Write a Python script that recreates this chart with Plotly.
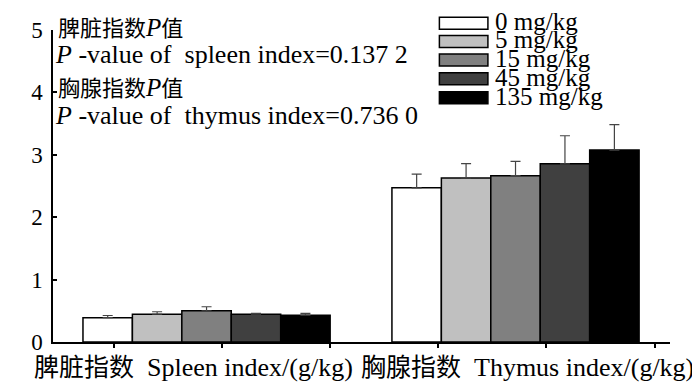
import plotly.graph_objects as go

# ---- data ----
cat_cn = ["脾脏指数", "胸腺指数"]
cat_en = ["Spleen index/(g/kg)", "Thymus index/(g/kg)"]
doses = ["0 mg/kg", "5 mg/kg", "15 mg/kg", "45 mg/kg", "135 mg/kg"]
spleen_mean = [0.39, 0.445, 0.50, 0.445, 0.43]
spleen_sd = [0.035, 0.04, 0.065, 0.015, 0.03]
thymus_mean = [2.47, 2.63, 2.665, 2.855, 3.075]
thymus_sd = [0.22, 0.23, 0.23, 0.45, 0.41]
p_cn = ["脾脏指数", "胸腺指数"]
p_en = ["spleen index", "thymus index"]
p_values = ["0.137 2", "0.736 0"]
yticks = [0, 1, 2, 3, 4, 5]

colors = ["#ffffff", "#c0c0c0", "#808080", "#404040", "#000000"]
FONT = "Liberation Serif, Times New Roman, Noto Sans CJK SC, serif"

# page body offsets the figure by 8px; target positions are in window pixels
OFF = 8
W, H = 700, 390
AX_L, AX_R, AX_T, AX_B = 53.3, 670.0, 30.0, 342.5   # window pixels of plot area
ML = AX_L - OFF
MT = AX_T - OFF
MR = W - (AX_R - OFF)
MB = H - (AX_B - OFF)
PW, PH = AX_R - AX_L, AX_B - AX_T

def px_x(px):
    return (px - AX_L) / PW

def px_y(py):
    return (AX_B - py) / PH

def cn(s, size):
    return f'<span style="font-size:{size}px">{s}</span>'

xpos = list(range(len(cat_cn)))

fig = go.Figure()
for i, d in enumerate(doses):
    fig.add_trace(go.Bar(
        x=xpos,
        y=[spleen_mean[i], thymus_mean[i]],
        name=d,
        marker=dict(color=colors[i], line=dict(color="black", width=1.5)),
        error_y=dict(type="data", symmetric=False,
                     array=[spleen_sd[i], thymus_sd[i]],
                     arrayminus=[0, 0],
                     color="#444444", thickness=1.2, width=5),
        showlegend=False,
    ))

annotations = []
# category labels under the x axis
cat_x = [-0.043, 1.039]
for i in range(len(cat_cn)):
    annotations.append(dict(x=cat_x[i], xref="x", y=px_y(368), yref="paper",
                            text=cn(cat_cn[i], 25) + "\u00a0 " + cat_en[i],
                            showarrow=False, xanchor="center", yanchor="middle",
                            font=dict(family=FONT, size=26, color="black")))
# P value text
ys = [[27, 55], [88, 116]]
for i in range(len(p_cn)):
    annotations.append(dict(x=px_x(56), xref="paper", y=px_y(ys[i][0]), yref="paper",
                            text=cn(p_cn[i], 22) + "<i>P</i>" + cn("值", 22),
                            showarrow=False, xanchor="left", yanchor="middle",
                            font=dict(family=FONT, size=25, color="black")))
    annotations.append(dict(x=px_x(53), xref="paper", y=px_y(ys[i][1]), yref="paper",
                            text=f"<i>P</i> -value of\u00a0 {p_en[i]}={p_values[i]}",
                            showarrow=False, xanchor="left", yanchor="middle",
                            font=dict(family=FONT, size=26, color="black")))

# manual legend
shapes = []
row_y = [23.3, 41.5, 60.0, 78.8, 97.8]
for i, d in enumerate(doses):
    cy = row_y[i]
    shapes.append(dict(type="rect", xref="paper", yref="paper",
                       x0=px_x(439.5), x1=px_x(488), y0=px_y(cy + 6), y1=px_y(cy - 6),
                       fillcolor=colors[i], line=dict(color="black", width=1.5)))
    annotations.append(dict(x=px_x(493), xref="paper", y=px_y(cy - 1.5), yref="paper",
                            text=d, showarrow=False, xanchor="left", yanchor="middle",
                            font=dict(family=FONT, size=25, color="black")))

fig.update_layout(
    width=W, height=H,
    margin=dict(l=ML, r=MR, t=MT, b=MB, pad=0),
    paper_bgcolor="white", plot_bgcolor="white",
    barmode="group", bargap=0.2, bargroupgap=0,
    font=dict(family=FONT, size=20, color="black"),
    xaxis=dict(range=[-0.497, 1.5], showline=True, linecolor="black", linewidth=1.5,
               showgrid=False, zeroline=False, ticks="outside", ticklen=4,
               tickcolor="black", tickwidth=1.5, tick0=-0.3, dtick=0.35,
               tickmode="linear", showticklabels=False, automargin=False),
    yaxis=dict(range=[0, 5], showline=True, linecolor="black", linewidth=1.5,
               showgrid=False, zeroline=False, ticks="inside", ticklen=4,
               tickcolor="black", tickwidth=1.5, tickvals=yticks, automargin=False,
               tickfont=dict(family=FONT, size=23, color="black"), ticklabelstandoff=4),
    annotations=annotations,
    shapes=shapes,
)

fig.write_html("out.html")
